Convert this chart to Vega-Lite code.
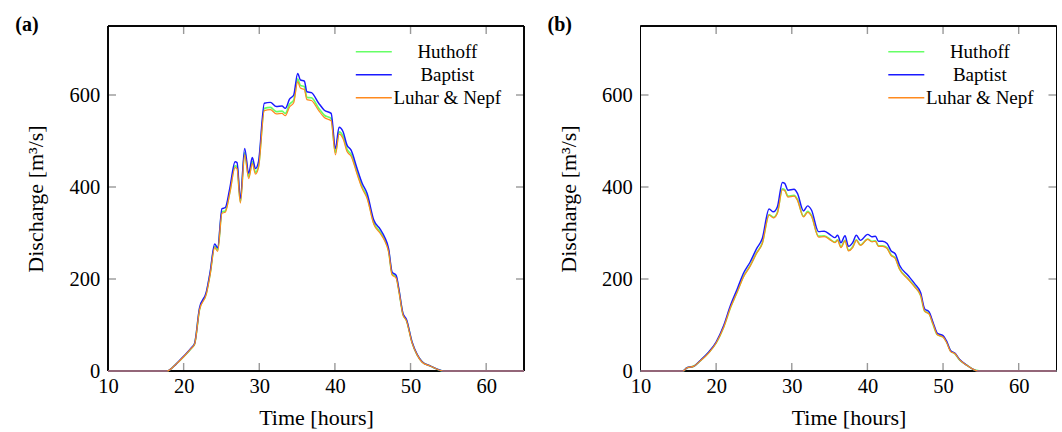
{
"$schema": "https://vega.github.io/schema/vega-lite/v6.json",
"padding": {"left": 15, "top": 15, "right": 7, "bottom": 0},
"bounds": "flush",
"spacing": 116.5,
"config": {
  "view": {"stroke": null},
  "font": "Liberation Serif",
  "axis": {"grid": false, "domain": false, "ticks": false,
    "labelFont": "Liberation Serif", "labelFontSize": 20.5, "labelColor": "#000000", "labelFlush": false,
    "titleFont": "Liberation Serif", "titleFontSize": 22, "titleFontWeight": "normal", "titleColor": "#000000"},
  "axisX": {"labelPadding": 5.7, "titlePadding": 10},
  "axisY": {"labelPadding": 8.3, "titlePadding": 21},
  "legend": {"padding": 0, "labelFont": "Liberation Serif", "labelFontSize": 19, "labelColor": "#000000", "labelAlign": "center", "labelOffset": 64, "rowPadding": 3, "symbolType": "M-3,0H3", "symbolSize": 144, "symbolStrokeWidth": 1.5, "symbolFillColor": "transparent"}
},
"resolve": {"legend": {"color": "independent"}},
"datasets": {
"xticks": [{"v": 20}, {"v": 30}, {"v": 40}, {"v": 50}, {"v": 60}],
"yticks": [{"v": 200}, {"v": 400}, {"v": 600}],
"a": [
{"t":10,"q":0,"model":"Huthoff"},{"t":17.8,"q":0,"model":"Huthoff"},{"t":19,"q":15,"model":"Huthoff"},{"t":20,"q":31,"model":"Huthoff"},{"t":21,"q":49,"model":"Huthoff"},{"t":21.45,"q":59,"model":"Huthoff"},{"t":22.1,"q":134,"model":"Huthoff"},{"t":23,"q":169,"model":"Huthoff"},{"t":23.5,"q":211,"model":"Huthoff"},{"t":24.1,"q":271,"model":"Huthoff"},{"t":24.5,"q":263,"model":"Huthoff"},{"t":25.07,"q":346,"model":"Huthoff"},{"t":25.5,"q":348,"model":"Huthoff"},{"t":26.1,"q":389,"model":"Huthoff"},{"t":26.8,"q":446,"model":"Huthoff"},{"t":27.06,"q":444,"model":"Huthoff"},{"t":27.5,"q":368,"model":"Huthoff"},{"t":28.07,"q":475,"model":"Huthoff"},{"t":28.6,"q":422,"model":"Huthoff"},{"t":29.08,"q":455,"model":"Huthoff"},{"t":29.5,"q":432,"model":"Huthoff"},{"t":29.9,"q":446,"model":"Huthoff"},{"t":30.67,"q":571,"model":"Huthoff"},{"t":31.47,"q":573,"model":"Huthoff"},{"t":32.26,"q":564,"model":"Huthoff"},{"t":33,"q":565,"model":"Huthoff"},{"t":33.45,"q":560,"model":"Huthoff"},{"t":34,"q":580,"model":"Huthoff"},{"t":34.55,"q":589,"model":"Huthoff"},{"t":35.08,"q":635,"model":"Huthoff"},{"t":35.43,"q":621,"model":"Huthoff"},{"t":35.96,"q":618,"model":"Huthoff"},{"t":36.3,"q":595,"model":"Huthoff"},{"t":36.9,"q":594,"model":"Huthoff"},{"t":37.86,"q":571,"model":"Huthoff"},{"t":38.6,"q":556,"model":"Huthoff"},{"t":39.5,"q":549,"model":"Huthoff"},{"t":40.07,"q":475,"model":"Huthoff"},{"t":40.55,"q":520,"model":"Huthoff"},{"t":41.08,"q":510,"model":"Huthoff"},{"t":41.6,"q":482,"model":"Huthoff"},{"t":42.14,"q":471,"model":"Huthoff"},{"t":42.93,"q":432,"model":"Huthoff"},{"t":43.6,"q":400,"model":"Huthoff"},{"t":44.26,"q":379,"model":"Huthoff"},{"t":45.14,"q":322,"model":"Huthoff"},{"t":46,"q":302,"model":"Huthoff"},{"t":46.55,"q":286,"model":"Huthoff"},{"t":47.1,"q":261,"model":"Huthoff"},{"t":47.56,"q":211,"model":"Huthoff"},{"t":48.1,"q":204,"model":"Huthoff"},{"t":48.45,"q":176,"model":"Huthoff"},{"t":49,"q":123,"model":"Huthoff"},{"t":49.46,"q":110,"model":"Huthoff"},{"t":50.2,"q":62,"model":"Huthoff"},{"t":50.87,"q":35,"model":"Huthoff"},{"t":51.53,"q":20,"model":"Huthoff"},{"t":52.6,"q":11,"model":"Huthoff"},{"t":54.4,"q":0,"model":"Huthoff"},{"t":65,"q":0,"model":"Huthoff"},
{"t":10,"q":0,"model":"Baptist"},{"t":17.8,"q":0,"model":"Baptist"},{"t":19,"q":15,"model":"Baptist"},{"t":20,"q":32,"model":"Baptist"},{"t":21,"q":50,"model":"Baptist"},{"t":21.45,"q":60,"model":"Baptist"},{"t":22.1,"q":137,"model":"Baptist"},{"t":23,"q":172,"model":"Baptist"},{"t":23.5,"q":215,"model":"Baptist"},{"t":24.1,"q":276,"model":"Baptist"},{"t":24.5,"q":268,"model":"Baptist"},{"t":25.07,"q":353,"model":"Baptist"},{"t":25.5,"q":355,"model":"Baptist"},{"t":26.1,"q":397,"model":"Baptist"},{"t":26.8,"q":455,"model":"Baptist"},{"t":27.06,"q":453,"model":"Baptist"},{"t":27.5,"q":375,"model":"Baptist"},{"t":28.07,"q":484,"model":"Baptist"},{"t":28.6,"q":430,"model":"Baptist"},{"t":29.08,"q":464,"model":"Baptist"},{"t":29.5,"q":440,"model":"Baptist"},{"t":29.9,"q":455,"model":"Baptist"},{"t":30.67,"q":582,"model":"Baptist"},{"t":31.47,"q":584,"model":"Baptist"},{"t":32.26,"q":575,"model":"Baptist"},{"t":33,"q":576,"model":"Baptist"},{"t":33.45,"q":571,"model":"Baptist"},{"t":34,"q":591,"model":"Baptist"},{"t":34.55,"q":600,"model":"Baptist"},{"t":35.08,"q":647,"model":"Baptist"},{"t":35.43,"q":633,"model":"Baptist"},{"t":35.96,"q":630,"model":"Baptist"},{"t":36.3,"q":607,"model":"Baptist"},{"t":36.9,"q":605,"model":"Baptist"},{"t":37.86,"q":582,"model":"Baptist"},{"t":38.6,"q":567,"model":"Baptist"},{"t":39.5,"q":560,"model":"Baptist"},{"t":40.07,"q":484,"model":"Baptist"},{"t":40.55,"q":530,"model":"Baptist"},{"t":41.08,"q":520,"model":"Baptist"},{"t":41.6,"q":491,"model":"Baptist"},{"t":42.14,"q":480,"model":"Baptist"},{"t":42.93,"q":440,"model":"Baptist"},{"t":43.6,"q":408,"model":"Baptist"},{"t":44.26,"q":386,"model":"Baptist"},{"t":45.14,"q":328,"model":"Baptist"},{"t":46,"q":308,"model":"Baptist"},{"t":46.55,"q":292,"model":"Baptist"},{"t":47.1,"q":266,"model":"Baptist"},{"t":47.56,"q":215,"model":"Baptist"},{"t":48.1,"q":208,"model":"Baptist"},{"t":48.45,"q":179,"model":"Baptist"},{"t":49,"q":125,"model":"Baptist"},{"t":49.46,"q":112,"model":"Baptist"},{"t":50.2,"q":63,"model":"Baptist"},{"t":50.87,"q":36,"model":"Baptist"},{"t":51.53,"q":20,"model":"Baptist"},{"t":52.6,"q":11,"model":"Baptist"},{"t":54.4,"q":0,"model":"Baptist"},{"t":65,"q":0,"model":"Baptist"},
{"t":10,"q":0,"model":"Luhar & Nepf"},{"t":17.8,"q":0,"model":"Luhar & Nepf"},{"t":19,"q":15,"model":"Luhar & Nepf"},{"t":20,"q":31,"model":"Luhar & Nepf"},{"t":21,"q":49,"model":"Luhar & Nepf"},{"t":21.45,"q":58,"model":"Luhar & Nepf"},{"t":22.1,"q":133,"model":"Luhar & Nepf"},{"t":23,"q":167,"model":"Luhar & Nepf"},{"t":23.5,"q":209,"model":"Luhar & Nepf"},{"t":24.1,"q":268,"model":"Luhar & Nepf"},{"t":24.5,"q":260,"model":"Luhar & Nepf"},{"t":25.07,"q":343,"model":"Luhar & Nepf"},{"t":25.5,"q":345,"model":"Luhar & Nepf"},{"t":26.1,"q":386,"model":"Luhar & Nepf"},{"t":26.8,"q":442,"model":"Luhar & Nepf"},{"t":27.06,"q":440,"model":"Luhar & Nepf"},{"t":27.5,"q":365,"model":"Luhar & Nepf"},{"t":28.07,"q":470,"model":"Luhar & Nepf"},{"t":28.6,"q":418,"model":"Luhar & Nepf"},{"t":29.08,"q":451,"model":"Luhar & Nepf"},{"t":29.5,"q":428,"model":"Luhar & Nepf"},{"t":29.9,"q":442,"model":"Luhar & Nepf"},{"t":30.67,"q":566,"model":"Luhar & Nepf"},{"t":31.47,"q":568,"model":"Luhar & Nepf"},{"t":32.26,"q":559,"model":"Luhar & Nepf"},{"t":33,"q":560,"model":"Luhar & Nepf"},{"t":33.45,"q":555,"model":"Luhar & Nepf"},{"t":34,"q":574,"model":"Luhar & Nepf"},{"t":34.55,"q":583,"model":"Luhar & Nepf"},{"t":35.08,"q":629,"model":"Luhar & Nepf"},{"t":35.43,"q":615,"model":"Luhar & Nepf"},{"t":35.96,"q":612,"model":"Luhar & Nepf"},{"t":36.3,"q":590,"model":"Luhar & Nepf"},{"t":36.9,"q":588,"model":"Luhar & Nepf"},{"t":37.86,"q":566,"model":"Luhar & Nepf"},{"t":38.6,"q":551,"model":"Luhar & Nepf"},{"t":39.5,"q":544,"model":"Luhar & Nepf"},{"t":40.07,"q":470,"model":"Luhar & Nepf"},{"t":40.55,"q":515,"model":"Luhar & Nepf"},{"t":41.08,"q":505,"model":"Luhar & Nepf"},{"t":41.6,"q":477,"model":"Luhar & Nepf"},{"t":42.14,"q":467,"model":"Luhar & Nepf"},{"t":42.93,"q":428,"model":"Luhar & Nepf"},{"t":43.6,"q":397,"model":"Luhar & Nepf"},{"t":44.26,"q":375,"model":"Luhar & Nepf"},{"t":45.14,"q":319,"model":"Luhar & Nepf"},{"t":46,"q":299,"model":"Luhar & Nepf"},{"t":46.55,"q":284,"model":"Luhar & Nepf"},{"t":47.1,"q":259,"model":"Luhar & Nepf"},{"t":47.56,"q":209,"model":"Luhar & Nepf"},{"t":48.1,"q":202,"model":"Luhar & Nepf"},{"t":48.45,"q":174,"model":"Luhar & Nepf"},{"t":49,"q":122,"model":"Luhar & Nepf"},{"t":49.46,"q":109,"model":"Luhar & Nepf"},{"t":50.2,"q":61,"model":"Luhar & Nepf"},{"t":50.87,"q":35,"model":"Luhar & Nepf"},{"t":51.53,"q":19,"model":"Luhar & Nepf"},{"t":52.6,"q":11,"model":"Luhar & Nepf"},{"t":54.4,"q":0,"model":"Luhar & Nepf"},{"t":65,"q":0,"model":"Luhar & Nepf"}
],
"b": [
{"t":10,"q":0,"model":"Huthoff"},{"t":15.6,"q":0,"model":"Huthoff"},{"t":16.15,"q":7,"model":"Huthoff"},{"t":17,"q":10,"model":"Huthoff"},{"t":17.9,"q":22,"model":"Huthoff"},{"t":19,"q":40,"model":"Huthoff"},{"t":20,"q":61,"model":"Huthoff"},{"t":21,"q":96,"model":"Huthoff"},{"t":21.9,"q":138,"model":"Huthoff"},{"t":22.8,"q":173,"model":"Huthoff"},{"t":23.6,"q":205,"model":"Huthoff"},{"t":24.5,"q":229,"model":"Huthoff"},{"t":25.35,"q":257,"model":"Huthoff"},{"t":26.1,"q":278,"model":"Huthoff"},{"t":27,"q":340,"model":"Huthoff"},{"t":27.57,"q":334,"model":"Huthoff"},{"t":28.1,"q":345,"model":"Huthoff"},{"t":28.76,"q":396,"model":"Huthoff"},{"t":29.07,"q":394,"model":"Huthoff"},{"t":29.5,"q":380,"model":"Huthoff"},{"t":30.3,"q":382,"model":"Huthoff"},{"t":30.75,"q":373,"model":"Huthoff"},{"t":31.55,"q":336,"model":"Huthoff"},{"t":32.1,"q":347,"model":"Huthoff"},{"t":32.6,"q":338,"model":"Huthoff"},{"t":33.54,"q":293,"model":"Huthoff"},{"t":34.3,"q":294,"model":"Huthoff"},{"t":35.18,"q":285,"model":"Huthoff"},{"t":35.7,"q":280,"model":"Huthoff"},{"t":36.06,"q":285,"model":"Huthoff"},{"t":36.5,"q":270,"model":"Huthoff"},{"t":37.04,"q":284,"model":"Huthoff"},{"t":37.5,"q":262,"model":"Huthoff"},{"t":38.05,"q":270,"model":"Huthoff"},{"t":38.54,"q":285,"model":"Huthoff"},{"t":39.07,"q":274,"model":"Huthoff"},{"t":40.04,"q":287,"model":"Huthoff"},{"t":40.58,"q":282,"model":"Huthoff"},{"t":41.06,"q":283,"model":"Huthoff"},{"t":41.46,"q":272,"model":"Huthoff"},{"t":42,"q":272,"model":"Huthoff"},{"t":42.6,"q":268,"model":"Huthoff"},{"t":43.14,"q":252,"model":"Huthoff"},{"t":43.67,"q":246,"model":"Huthoff"},{"t":44.25,"q":222,"model":"Huthoff"},{"t":45.35,"q":201,"model":"Huthoff"},{"t":46.24,"q":184,"model":"Huthoff"},{"t":47.04,"q":164,"model":"Huthoff"},{"t":47.57,"q":130,"model":"Huthoff"},{"t":48.14,"q":125,"model":"Huthoff"},{"t":48.67,"q":102,"model":"Huthoff"},{"t":49.25,"q":79,"model":"Huthoff"},{"t":50,"q":74,"model":"Huthoff"},{"t":50.44,"q":64,"model":"Huthoff"},{"t":51.02,"q":43,"model":"Huthoff"},{"t":51.55,"q":38,"model":"Huthoff"},{"t":52.2,"q":24,"model":"Huthoff"},{"t":53.1,"q":13,"model":"Huthoff"},{"t":54.2,"q":2,"model":"Huthoff"},{"t":54.6,"q":1,"model":"Huthoff"},{"t":55,"q":0,"model":"Huthoff"},{"t":65,"q":0,"model":"Huthoff"},
{"t":10,"q":0,"model":"Baptist"},{"t":15.6,"q":0,"model":"Baptist"},{"t":16.15,"q":7,"model":"Baptist"},{"t":17,"q":10,"model":"Baptist"},{"t":17.9,"q":23,"model":"Baptist"},{"t":19,"q":41,"model":"Baptist"},{"t":20,"q":63,"model":"Baptist"},{"t":21,"q":99,"model":"Baptist"},{"t":21.9,"q":143,"model":"Baptist"},{"t":22.8,"q":179,"model":"Baptist"},{"t":23.6,"q":212,"model":"Baptist"},{"t":24.5,"q":237,"model":"Baptist"},{"t":25.35,"q":266,"model":"Baptist"},{"t":26.1,"q":288,"model":"Baptist"},{"t":27,"q":352,"model":"Baptist"},{"t":27.57,"q":346,"model":"Baptist"},{"t":28.1,"q":357,"model":"Baptist"},{"t":28.76,"q":410,"model":"Baptist"},{"t":29.07,"q":408,"model":"Baptist"},{"t":29.5,"q":393,"model":"Baptist"},{"t":30.3,"q":395,"model":"Baptist"},{"t":30.75,"q":386,"model":"Baptist"},{"t":31.55,"q":348,"model":"Baptist"},{"t":32.1,"q":359,"model":"Baptist"},{"t":32.6,"q":350,"model":"Baptist"},{"t":33.54,"q":303,"model":"Baptist"},{"t":34.3,"q":304,"model":"Baptist"},{"t":35.18,"q":295,"model":"Baptist"},{"t":35.7,"q":290,"model":"Baptist"},{"t":36.06,"q":295,"model":"Baptist"},{"t":36.5,"q":279,"model":"Baptist"},{"t":37.04,"q":294,"model":"Baptist"},{"t":37.5,"q":271,"model":"Baptist"},{"t":38.05,"q":279,"model":"Baptist"},{"t":38.54,"q":295,"model":"Baptist"},{"t":39.07,"q":284,"model":"Baptist"},{"t":40.04,"q":297,"model":"Baptist"},{"t":40.58,"q":292,"model":"Baptist"},{"t":41.06,"q":293,"model":"Baptist"},{"t":41.46,"q":282,"model":"Baptist"},{"t":42,"q":282,"model":"Baptist"},{"t":42.6,"q":277,"model":"Baptist"},{"t":43.14,"q":261,"model":"Baptist"},{"t":43.67,"q":255,"model":"Baptist"},{"t":44.25,"q":230,"model":"Baptist"},{"t":45.35,"q":208,"model":"Baptist"},{"t":46.24,"q":190,"model":"Baptist"},{"t":47.04,"q":170,"model":"Baptist"},{"t":47.57,"q":135,"model":"Baptist"},{"t":48.14,"q":129,"model":"Baptist"},{"t":48.67,"q":106,"model":"Baptist"},{"t":49.25,"q":82,"model":"Baptist"},{"t":50,"q":77,"model":"Baptist"},{"t":50.44,"q":66,"model":"Baptist"},{"t":51.02,"q":44,"model":"Baptist"},{"t":51.55,"q":39,"model":"Baptist"},{"t":52.2,"q":25,"model":"Baptist"},{"t":53.1,"q":13,"model":"Baptist"},{"t":54.2,"q":2,"model":"Baptist"},{"t":54.6,"q":0,"model":"Baptist"},{"t":65,"q":0,"model":"Baptist"},
{"t":10,"q":0,"model":"Luhar & Nepf"},{"t":15.6,"q":0,"model":"Luhar & Nepf"},{"t":16.15,"q":7,"model":"Luhar & Nepf"},{"t":17,"q":10,"model":"Luhar & Nepf"},{"t":17.9,"q":22,"model":"Luhar & Nepf"},{"t":19,"q":39,"model":"Luhar & Nepf"},{"t":20,"q":61,"model":"Luhar & Nepf"},{"t":21,"q":95,"model":"Luhar & Nepf"},{"t":21.9,"q":138,"model":"Luhar & Nepf"},{"t":22.8,"q":172,"model":"Luhar & Nepf"},{"t":23.6,"q":204,"model":"Luhar & Nepf"},{"t":24.5,"q":228,"model":"Luhar & Nepf"},{"t":25.35,"q":256,"model":"Luhar & Nepf"},{"t":26.1,"q":277,"model":"Luhar & Nepf"},{"t":27,"q":339,"model":"Luhar & Nepf"},{"t":27.57,"q":333,"model":"Luhar & Nepf"},{"t":28.1,"q":343,"model":"Luhar & Nepf"},{"t":28.76,"q":394,"model":"Luhar & Nepf"},{"t":29.07,"q":392,"model":"Luhar & Nepf"},{"t":29.5,"q":378,"model":"Luhar & Nepf"},{"t":30.3,"q":380,"model":"Luhar & Nepf"},{"t":30.75,"q":371,"model":"Luhar & Nepf"},{"t":31.55,"q":335,"model":"Luhar & Nepf"},{"t":32.1,"q":345,"model":"Luhar & Nepf"},{"t":32.6,"q":337,"model":"Luhar & Nepf"},{"t":33.54,"q":291,"model":"Luhar & Nepf"},{"t":34.3,"q":292,"model":"Luhar & Nepf"},{"t":35.18,"q":284,"model":"Luhar & Nepf"},{"t":35.7,"q":279,"model":"Luhar & Nepf"},{"t":36.06,"q":284,"model":"Luhar & Nepf"},{"t":36.5,"q":268,"model":"Luhar & Nepf"},{"t":37.04,"q":283,"model":"Luhar & Nepf"},{"t":37.5,"q":261,"model":"Luhar & Nepf"},{"t":38.05,"q":268,"model":"Luhar & Nepf"},{"t":38.54,"q":284,"model":"Luhar & Nepf"},{"t":39.07,"q":273,"model":"Luhar & Nepf"},{"t":40.04,"q":286,"model":"Luhar & Nepf"},{"t":40.58,"q":281,"model":"Luhar & Nepf"},{"t":41.06,"q":282,"model":"Luhar & Nepf"},{"t":41.46,"q":271,"model":"Luhar & Nepf"},{"t":42,"q":271,"model":"Luhar & Nepf"},{"t":42.6,"q":266,"model":"Luhar & Nepf"},{"t":43.14,"q":251,"model":"Luhar & Nepf"},{"t":43.67,"q":245,"model":"Luhar & Nepf"},{"t":44.25,"q":221,"model":"Luhar & Nepf"},{"t":45.35,"q":200,"model":"Luhar & Nepf"},{"t":46.24,"q":183,"model":"Luhar & Nepf"},{"t":47.04,"q":164,"model":"Luhar & Nepf"},{"t":47.57,"q":130,"model":"Luhar & Nepf"},{"t":48.14,"q":124,"model":"Luhar & Nepf"},{"t":48.67,"q":102,"model":"Luhar & Nepf"},{"t":49.25,"q":79,"model":"Luhar & Nepf"},{"t":50,"q":74,"model":"Luhar & Nepf"},{"t":50.44,"q":63,"model":"Luhar & Nepf"},{"t":51.02,"q":42,"model":"Luhar & Nepf"},{"t":51.55,"q":38,"model":"Luhar & Nepf"},{"t":52.2,"q":24,"model":"Luhar & Nepf"},{"t":53.1,"q":13,"model":"Luhar & Nepf"},{"t":54.2,"q":2,"model":"Luhar & Nepf"},{"t":54.6,"q":0,"model":"Luhar & Nepf"},{"t":65,"q":0,"model":"Luhar & Nepf"}
]
},
"hconcat": [
{
  "title": {"text": "(a)", "anchor": "start", "frame": "group", "dx": -92.7, "dy": 25.5, "baseline": "alphabetic", "offset": 0, "fontSize": 20, "fontWeight": "bold", "font": "Liberation Serif", "color": "#000000"},
  "width": 416, "height": 345,
  "layer": [
    {"data": {"name": "xticks"}, "mark": {"type": "rect", "color": "#999999", "opacity": 1, "xOffset": -0.7, "x2Offset": 0.7},
     "encoding": {"x": {"field": "v", "type": "quantitative", "title": "Time [hours]", "scale": {"domain": [10, 65], "nice": false, "zero": false}}, "x2": {"field": "v"}, "y": {"datum": 0, "type": "quantitative", "title": "Discharge [m³/s]", "scale": {"domain": [0, 750], "nice": false}}, "y2": {"datum": 17.4}}},
    {"data": {"name": "xticks"}, "mark": {"type": "rect", "color": "#999999", "opacity": 1, "xOffset": -0.7, "x2Offset": 0.7},
     "encoding": {"x": {"field": "v", "type": "quantitative", "title": "Time [hours]"}, "x2": {"field": "v"}, "y": {"datum": 732.6, "type": "quantitative", "title": "Discharge [m³/s]"}, "y2": {"datum": 750}}},
    {"data": {"name": "yticks"}, "mark": {"type": "rect", "color": "#999999", "opacity": 1, "yOffset": -0.7, "y2Offset": 0.7},
     "encoding": {"y": {"field": "v", "type": "quantitative", "title": "Discharge [m³/s]"}, "y2": {"field": "v"}, "x": {"datum": 10, "type": "quantitative", "title": "Time [hours]"}, "x2": {"datum": 11.06}}},
    {"data": {"name": "yticks"}, "mark": {"type": "rect", "color": "#999999", "opacity": 1, "yOffset": -0.7, "y2Offset": 0.7},
     "encoding": {"y": {"field": "v", "type": "quantitative", "title": "Discharge [m³/s]"}, "y2": {"field": "v"}, "x": {"datum": 63.94, "type": "quantitative", "title": "Time [hours]"}, "x2": {"datum": 65}}},
    {"data": {"name": "xticks"}, "mark": {"type": "rect", "fill": null, "stroke": "#000000", "strokeWidth": 1},
     "encoding": {"x": {"datum": 10, "type": "quantitative", "title": "Time [hours]"}, "x2": {"datum": 65}, "y": {"datum": 0, "type": "quantitative", "title": "Discharge [m³/s]"}, "y2": {"datum": 750}}},
    {"data": {"name": "a"}, "mark": {"type": "line", "interpolate": "monotone"},
     "encoding": {
       "x": {"field": "t", "type": "quantitative", "scale": {"domain": [10, 65], "nice": false, "zero": false}, "axis": {"values": [10, 20, 30, 40, 50, 60]}, "title": "Time [hours]"},
       "y": {"field": "q", "type": "quantitative", "scale": {"domain": [0, 750], "nice": false}, "axis": {"values": [0, 200, 400, 600]}, "title": "Discharge [m³/s]"},
       "color": {"field": "model", "type": "nominal", "scale": {"domain": ["Huthoff", "Baptist", "Luhar & Nepf"], "range": ["#66ff66", "#1a1aff", "#ff8a1e"]}, "legend": {"title": null, "orient": "none", "legendX": 256.3, "legendY": 16.3}},
       "strokeWidth": {"field": "model", "type": "nominal", "scale": {"domain": ["Huthoff", "Baptist", "Luhar & Nepf"], "range": [1.7, 1.2, 1.3]}, "legend": null}
     }}
  ]
},
{
  "title": {"text": "(b)", "anchor": "start", "frame": "group", "dx": -93, "dy": 25.5, "baseline": "alphabetic", "offset": 0, "fontSize": 20, "fontWeight": "bold", "font": "Liberation Serif", "color": "#000000"},
  "width": 416, "height": 345,
  "layer": [
    {"data": {"name": "xticks"}, "mark": {"type": "rect", "color": "#999999", "opacity": 1, "xOffset": -0.7, "x2Offset": 0.7},
     "encoding": {"x": {"field": "v", "type": "quantitative", "title": "Time [hours]", "scale": {"domain": [10, 65], "nice": false, "zero": false}}, "x2": {"field": "v"}, "y": {"datum": 0, "type": "quantitative", "title": "Discharge [m³/s]", "scale": {"domain": [0, 750], "nice": false}}, "y2": {"datum": 17.4}}},
    {"data": {"name": "xticks"}, "mark": {"type": "rect", "color": "#999999", "opacity": 1, "xOffset": -0.7, "x2Offset": 0.7},
     "encoding": {"x": {"field": "v", "type": "quantitative", "title": "Time [hours]"}, "x2": {"field": "v"}, "y": {"datum": 732.6, "type": "quantitative", "title": "Discharge [m³/s]"}, "y2": {"datum": 750}}},
    {"data": {"name": "yticks"}, "mark": {"type": "rect", "color": "#999999", "opacity": 1, "yOffset": -0.7, "y2Offset": 0.7},
     "encoding": {"y": {"field": "v", "type": "quantitative", "title": "Discharge [m³/s]"}, "y2": {"field": "v"}, "x": {"datum": 10, "type": "quantitative", "title": "Time [hours]"}, "x2": {"datum": 11.06}}},
    {"data": {"name": "yticks"}, "mark": {"type": "rect", "color": "#999999", "opacity": 1, "yOffset": -0.7, "y2Offset": 0.7},
     "encoding": {"y": {"field": "v", "type": "quantitative", "title": "Discharge [m³/s]"}, "y2": {"field": "v"}, "x": {"datum": 63.94, "type": "quantitative", "title": "Time [hours]"}, "x2": {"datum": 65}}},
    {"data": {"name": "xticks"}, "mark": {"type": "rect", "fill": null, "stroke": "#000000", "strokeWidth": 1},
     "encoding": {"x": {"datum": 10, "type": "quantitative", "title": "Time [hours]"}, "x2": {"datum": 65}, "y": {"datum": 0, "type": "quantitative", "title": "Discharge [m³/s]"}, "y2": {"datum": 750}}},
    {"data": {"name": "b"}, "mark": {"type": "line", "interpolate": "monotone"},
     "encoding": {
       "x": {"field": "t", "type": "quantitative", "scale": {"domain": [10, 65], "nice": false, "zero": false}, "axis": {"values": [10, 20, 30, 40, 50, 60]}, "title": "Time [hours]"},
       "y": {"field": "q", "type": "quantitative", "scale": {"domain": [0, 750], "nice": false}, "axis": {"values": [0, 200, 400, 600]}, "title": "Discharge [m³/s]"},
       "color": {"field": "model", "type": "nominal", "scale": {"domain": ["Huthoff", "Baptist", "Luhar & Nepf"], "range": ["#66ff66", "#1a1aff", "#ff8a1e"]}, "legend": {"title": null, "orient": "none", "legendX": 256.3, "legendY": 16.3}},
       "strokeWidth": {"field": "model", "type": "nominal", "scale": {"domain": ["Huthoff", "Baptist", "Luhar & Nepf"], "range": [1.7, 1.2, 1.3]}, "legend": null}
     }}
  ]
}
]
}
